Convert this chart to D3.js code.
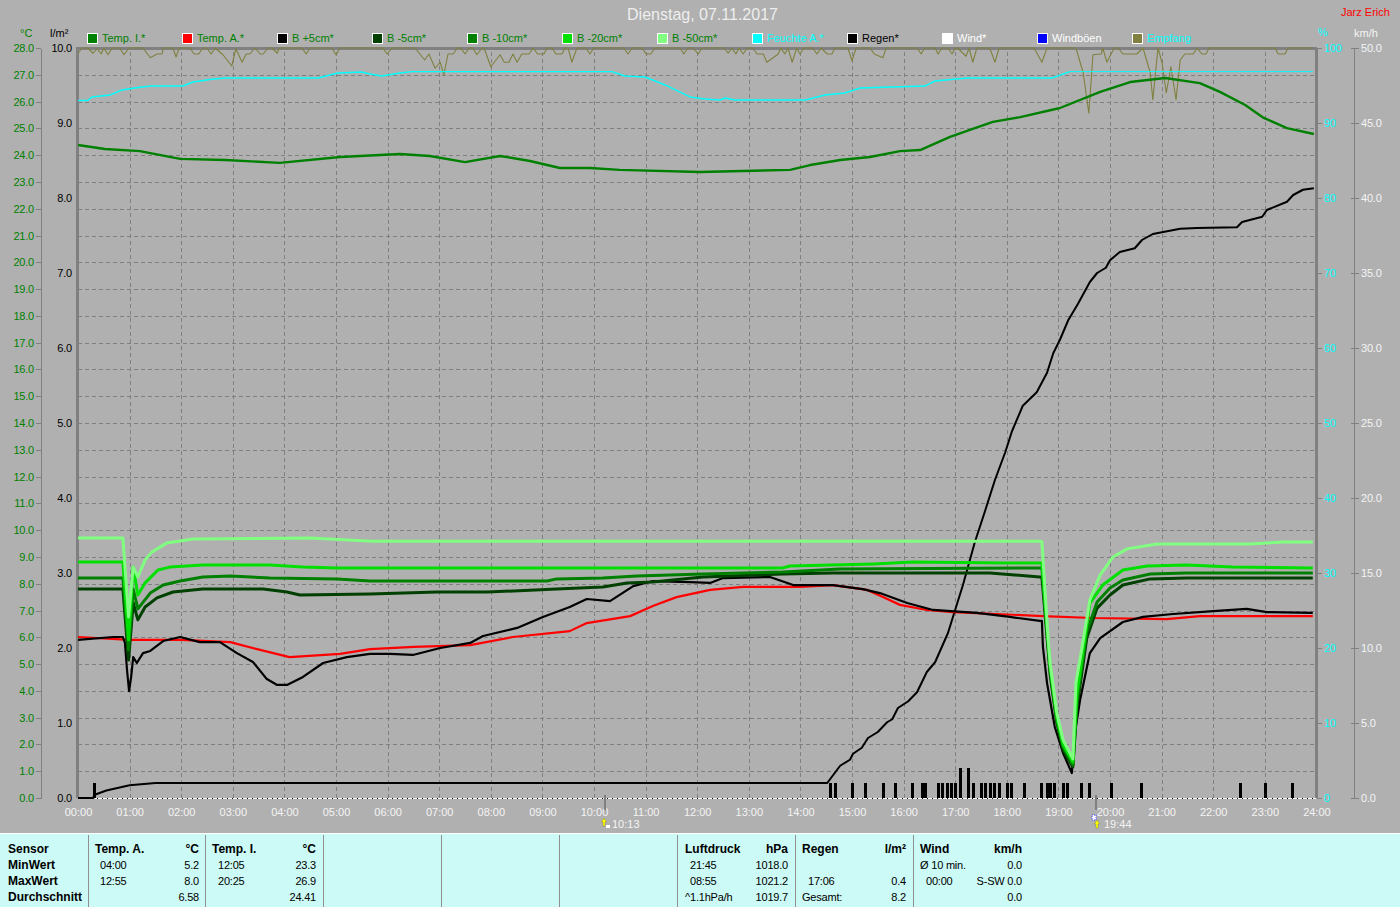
<!DOCTYPE html>
<html><head><meta charset="utf-8">
<script src="https://cdn.jsdelivr.net/npm/d3@7/dist/d3.min.js"></script>
<style>
html,body{margin:0;padding:0;background:#b0b0b0;overflow:hidden}
text{font-family:"Liberation Sans",Arial,sans-serif;font-size:11px}
.axis path.domain{stroke:#808080}
.axis line{stroke:#808080}
</style></head><body><svg id="c" width="1400" height="907"></svg>
<script>
// ---------- data: [hour, value] ----------
const tempI=[[0,24.38],[.52,24.23],[1.2,24.15],[1.98,23.86],[2.85,23.82],[3.91,23.71],[5.08,23.93],[6.24,24.04],[6.82,23.97],[7.5,23.74],[8.18,23.97],[8.76,23.78],[9.34,23.52],[9.92,23.52],[10.5,23.45],[12.05,23.37],[13.8,23.45],[14.19,23.63],[14.77,23.82],[15.35,23.93],[15.93,24.15],[16.32,24.19],[16.9,24.68],[17.34,24.98],[17.73,25.24],[18.26,25.42],[19.03,25.76],[19.81,26.36],[20.39,26.73],[21.07,26.88],[21.74,26.69],[22.13,26.36],[22.62,25.87],[22.98,25.39],[23.43,25.01],[23.95,24.79]];
const tempA=[[0,6.01],[1,5.9],[2,5.9],[2.95,5.82],[3.53,5.53],[4.1,5.26],[5.08,5.38],[5.66,5.56],[6.51,5.64],[7.6,5.71],[8.43,6.01],[9.53,6.23],[9.86,6.53],[10.7,6.79],[11.14,7.17],[11.6,7.5],[12.25,7.77],[12.89,7.88],[13.99,7.88],[14.63,7.95],[15.29,7.77],[15.6,7.5],[15.93,7.21],[16.45,7.02],[16.96,6.94],[18.7,6.79],[19.67,6.72],[21.1,6.68],[21.74,6.79],[23.93,6.79]];
const bPlus5=[[0,5.9],[.68,6.01],[.87,6.01],[.91,5.79],[.95,4.78],[.99,3.99],[1.03,4.52],[1.07,5.26],[1.14,5.04],[1.26,5.41],[1.4,5.49],[1.65,5.86],[1.98,6.01],[2.36,5.82],[2.75,5.82],[3.08,5.41],[3.39,5.08],[3.66,4.44],[3.86,4.22],[4.05,4.22],[4.36,4.52],[4.75,5.04],[5.21,5.26],[5.66,5.38],[6.05,5.38],[6.49,5.34],[7.02,5.6],[7.6,5.79],[7.85,6.05],[8.51,6.35],[9.01,6.76],[9.53,7.13],[9.86,7.43],[10.31,7.35],[10.76,7.91],[11.14,8.1],[11.86,8.06],[12.25,8.03],[12.5,8.21],[13.41,8.25],[13.86,7.95],[14.63,7.95],[15.21,7.8],[15.54,7.65],[16.07,7.28],[16.57,7.02],[17.42,6.91],[18.06,6.76],[18.64,6.61],[18.68,6.61],[18.7,5.64],[18.78,4.29],[18.93,2.65],[19.09,1.68],[19.26,.93],[19.32,2.43],[19.42,3.66],[19.61,5.41],[19.81,5.97],[20.25,6.57],[20.64,6.76],[21.22,6.87],[22,6.98],[22.65,7.06],[23.04,6.94],[23.93,6.91]];
const bMinus5=[[0,7.8],[.87,7.8],[.98,5.15],[1.07,7.28],[1.16,6.65],[1.3,7.13],[1.53,7.47],[1.84,7.69],[2.42,7.8],[3.59,7.8],[4.05,7.69],[4.3,7.58],[5.66,7.62],[6.96,7.69],[7.93,7.69],[9.28,7.8],[10.17,7.88],[10.64,8.03],[11.14,8.06],[12.11,8.25],[13.66,8.36],[14.63,8.4],[17.67,8.4],[18.64,8.25],[18.68,8.25],[18.8,5.55],[18.84,4.6],[18.97,2.8],[19.09,1.8],[19.28,1.16],[19.36,3.4],[19.55,5.97],[19.75,7.09],[20,7.58],[20.25,7.95],[20.78,8.18],[21.49,8.21],[23.93,8.21]];
const bMinus10=[[0,8.21],[.87,8.21],[.98,5.53],[1.07,7.8],[1.16,7.06],[1.4,7.65],[1.65,7.95],[1.98,8.1],[2.42,8.25],[2.95,8.29],[3.72,8.21],[5.02,8.18],[5.66,8.1],[9.09,8.1],[9.28,8.18],[10.17,8.21],[10.83,8.29],[12.11,8.36],[13.66,8.44],[14.77,8.55],[18.64,8.59],[18.68,8.59],[18.8,5.7],[18.84,4.75],[18.97,2.9],[19.09,1.9],[19.28,1.23],[19.36,3.6],[19.55,6.2],[19.75,7.32],[20,7.84],[20.25,8.14],[20.78,8.36],[21.49,8.4],[23.93,8.4]];
const bMinus20=[[0,8.81],[.87,8.81],[.98,5.9],[1.07,8.62],[1.16,7.58],[1.3,8.03],[1.55,8.51],[1.78,8.62],[2.42,8.7],[3.72,8.7],[4.36,8.62],[5.02,8.59],[13.66,8.59],[13.8,8.66],[15.41,8.74],[16.18,8.81],[18,8.77],[18.64,8.77],[18.68,8.77],[18.8,5.85],[18.84,4.9],[18.97,3],[19.09,2],[19.28,1.34],[19.36,3.9],[19.61,7.28],[19.86,7.95],[20.25,8.51],[20.72,8.66],[21.49,8.7],[22.38,8.62],[23.93,8.59]];
const bMinus50=[[0,9.71],[.87,9.71],[.98,6.76],[1.07,8.62],[1.16,8.25],[1.3,8.89],[1.43,9.18],[1.72,9.52],[2.23,9.67],[4.5,9.71],[5.66,9.59],[18.64,9.59],[18.68,9.56],[18.8,6.01],[18.84,5.04],[18.97,3.17],[19.09,2.17],[19.28,1.46],[19.34,4.29],[19.45,5.53],[19.61,7.39],[19.81,8.33],[20.06,9.0],[20.33,9.3],[20.91,9.48],[22.71,9.48],[23.35,9.56],[23.93,9.56]];
const feuchte=[[0,93.0],[.19,93.0],[.27,93.47],[.62,93.73],[.85,94.4],[1.1,94.67],[1.4,94.93],[2.03,94.93],[2.23,95.47],[2.56,95.8],[2.85,96],[4.65,96],[5.04,96.67],[5.5,96.8],[5.66,96.53],[5.89,96.27],[6.24,96.67],[6.47,96.85],[10.35,96.85],[10.6,96.27],[10.99,96.13],[11.38,95.07],[11.86,93.47],[12.15,93.2],[12.44,93.07],[12.54,93.33],[12.73,93.07],[14.09,93.07],[14.48,93.73],[14.86,94],[15.16,94.67],[16.41,94.93],[16.61,95.6],[17.23,96],[18.88,96],[19.22,96.85]];
const feuchteSpaet=[[19.22,96.85],[23.93,96.85]];
const empfang=[[0,99.3],[.08,100],[.19,100],[.29,99.3],[.37,99.9],[.45,99.2],[.5,100],[.58,99.1],[.66,100],[.81,100],[.89,99.1],[.99,100],[1.26,100],[1.4,98.7],[1.53,99.2],[1.63,99.2],[1.65,100],[1.84,100],[1.9,98.8],[1.96,100],[2.17,100],[2.25,99.2],[2.34,99.2],[2.42,100],[2.5,100],[2.58,99.2],[2.66,100],[2.81,99.1],[2.98,97.6],[3.06,99.9],[3.18,98.1],[3.26,99.2],[3.33,99.2],[3.43,100],[3.53,99.2],[3.59,99.2],[3.68,100],[3.76,100],[3.86,99.3],[3.9,100],[4.34,100],[4.42,99.2],[4.5,100],[4.92,100],[5,99.1],[5.08,100],[5.91,100],[5.99,99.2],[6.09,100],[6.53,100],[6.72,98.4],[6.8,99.2],[6.92,97.3],[7.02,98.1],[7.09,96.4],[7.17,99.2],[7.27,99.2],[7.35,100],[7.42,100],[7.5,99.2],[7.58,100],[7.65,100],[7.73,99.1],[7.83,100],[7.87,100],[8,97.5],[8.18,99.1],[8.26,98.1],[8.35,98.1],[8.43,99.2],[8.51,98.1],[8.6,99.2],[8.74,99.2],[8.82,100],[8.91,99.2],[9.03,99.2],[9.09,100],[9.19,100],[9.26,99.2],[9.38,99.2],[9.44,100],[9.5,100],[9.57,98.1],[9.67,100],[9.84,100],[9.92,99.2],[10,100],[10.58,100],[10.66,99.2],[10.74,100],[10.93,100],[11.01,99.2],[11.1,99.2],[11.18,100],[11.67,100],[11.74,99.2],[11.82,100],[11.92,100],[12.02,99.2],[12.09,100],[12.52,100],[12.6,99.3],[12.67,100],[12.75,99.2],[12.81,100],[12.89,99.2],[12.97,100],[13.08,100],[13.16,99.2],[13.28,99.2],[13.35,98.1],[13.57,99.2],[13.62,100],[13.7,99.2],[13.76,100],[13.84,98.1],[13.93,100],[13.99,99.2],[14.07,100],[14.24,100],[14.32,99.2],[14.4,100],[14.52,99.2],[14.61,99.2],[14.67,100],[14.92,100],[15,98.3],[15.08,100],[15.35,100],[15.43,99.2],[15.6,98.7],[15.66,100],[16.26,100],[16.34,99.2],[16.41,100],[16.61,100],[16.67,99.2],[16.74,100],[16.86,100],[16.94,99.2],[17,100],[17.05,100],[17.21,98.9],[17.27,100],[17.34,98.1],[17.42,100],[17.67,100],[17.77,98.1],[17.85,100],[18.53,100],[18.68,98.1],[18.78,100],[19.34,100],[19.48,96.7],[19.59,91.3],[19.67,99.1],[19.83,99.2],[19.86,100],[19.94,98.1],[20.08,100],[20.16,100],[20.25,99.2],[20.52,99.2],[20.64,100],[20.78,96.7],[20.83,93.1],[20.93,100],[21.01,98],[21.09,94],[21.18,97.5],[21.28,93.1],[21.36,98.4],[21.45,99.2],[21.61,99.2],[21.69,100],[21.78,99.2],[21.86,99.2],[21.92,100],[23.2,100],[23.26,99.2],[23.39,99.2],[23.45,100],[23.93,100]];
const regenSum=[[0,0],[.3,0],[.31,.04],[.55,.1],[1,.17],[1.5,.2],[14.52,.2],[14.77,.43],[14.96,.51],[15.02,.59],[15.19,.67],[15.31,.8],[15.5,.88],[15.68,1.01],[15.78,1.05],[15.89,1.2],[16.09,1.29],[16.26,1.41],[16.45,1.68],[16.61,1.81],[16.86,2.2],[17,2.51],[17.15,2.84],[17.38,3.41],[17.58,3.83],[17.77,4.24],[17.97,4.61],[18.1,4.89],[18.31,5.23],[18.58,5.41],[18.78,5.67],[18.9,5.93],[19.03,6.11],[19.19,6.37],[19.38,6.59],[19.61,6.88],[19.75,7],[19.92,7.07],[20,7.17],[20.19,7.28],[20.48,7.33],[20.62,7.44],[20.83,7.52],[21.36,7.59],[21.69,7.6],[22.46,7.61],[22.56,7.68],[22.95,7.75],[23.04,7.84],[23.43,7.95],[23.55,8.04],[23.74,8.11],[23.95,8.13]];
const regenBars=[[.31,.2],[14.58,.2],[14.68,.2],[15,.2],[15.25,.2],[15.61,.2],[15.84,.2],[16.17,.2],[16.35,.2],[16.42,.2],[16.67,.2],[16.75,.2],[16.85,.2],[16.92,.2],[17,.2],[17.1,.4],[17.25,.4],[17.35,.2],[17.5,.2],[17.58,.2],[17.68,.2],[17.76,.2],[17.85,.2],[18.01,.2],[18.09,.2],[18.34,.2],[18.67,.2],[18.77,.2],[18.84,.2],[18.92,.2],[19.09,.2],[19.17,.2],[19.43,.2],[19.6,.2],[20.01,.2],[20.61,.2],[22.51,.2],[23.01,.2],[23.52,.2]];
const wind=[[0,0],[24,0]];
const sunTimes=[[10.22,"10:13"],[19.73,"19:44"]];
const legendNames=["Temp. I.*","Temp. A.*","B +5cm*","B -5cm*","B -10cm*","B -20cm*","B -50cm*","Feuchte A.*","Regen*","Wind*","Windböen","Empfang"];
const legendColors=["#008000","#ff0000","#000000","#004000","#008000","#00e000","#80ff80","#00ffff","#000000","#ffffff","#0000ff","#808040"];
const legendText=["#008000","#008000","#008000","#008000","#008000","#008000","#008000","#00ffff","#000000","#ffffff","#ffffff","#00ffff"];
const panelColumns=[
 {x:8,r:null,rows:[["Sensor",""],["MinWert",""],["MaxWert",""],["Durchschnitt",""]],allBold:true},
 {x:95,r:199,ind:5,rows:[["Temp. A.","°C"],["04:00","5.2"],["12:55","8.0"],["","6.58"]]},
 {x:212,r:316,ind:6,rows:[["Temp. I.","°C"],["12:05","23.3"],["20:25","26.9"],["","24.41"]]},
 {x:685,r:788,ind:5,rows:[["Luftdruck","hPa"],["21:45","1018.0"],["08:55","1021.2"],["^1.1hPa/h","1019.7"]]},
 {x:802,r:906,ind:6,rows:[["Regen","l/m²"],["",""],["17:06","0.4"],["Gesamt:","8.2"]]},
 {x:920,r:1022,ind:6,rows:[["Wind","km/h"],["Ø 10 min.","0.0"],["00:00","S-SW 0.0"],["","0.0"]]}
];
const panelDividers=[88,205,323,441,559,677,795,913];

// ---------- layout ----------
const L=78,R=1316.4,T=48,B=798;
const x=d3.scaleLinear().domain([0,24]).range([L,R]);
const yT=d3.scaleLinear().domain([0,28]).range([B,T]);
const yR=d3.scaleLinear().domain([0,10]).range([B,T]);
const yP=d3.scaleLinear().domain([0,100]).range([B,T]);
const yW=d3.scaleLinear().domain([0,50]).range([B,T]);
const svg=d3.select("#c");
svg.append("rect").attr("width",1400).attr("height",907).attr("fill","#b0b0b0");

// grid
const hm=h=>String(h).padStart(2,"0")+":00";
const gridV=svg.append("g").attr("class","axis").attr("transform",`translate(0,${B})`)
 .call(d3.axisBottom(x).tickValues(d3.range(1,24)).tickSize(-(B-T)).tickFormat(""));
gridV.select(".domain").remove();
const gridH=svg.append("g").attr("class","axis").attr("transform",`translate(${L},0)`)
 .call(d3.axisLeft(yT).tickValues(d3.range(1,28)).tickSize(-(R-L)).tickFormat(""));
gridH.select(".domain").remove();
svg.selectAll(".axis line").attr("stroke-dasharray","4 3").attr("shape-rendering","crispEdges");

// x labels
const xa=svg.append("g").attr("transform",`translate(0,${B})`)
 .call(d3.axisBottom(x).tickValues(d3.range(0,25)).tickSize(0).tickPadding(10).tickFormat(hm));
xa.select(".domain").remove();
xa.selectAll("text").attr("fill","#f4f4f4").style("font-size","11px").style("font-family","Liberation Sans");

// left / right axes
function styleAxis(g,color,lineColor){
 g.selectAll("text").attr("fill",color).style("font-size","11px").style("font-family","Liberation Sans").style("letter-spacing","-0.2px");
 g.selectAll("line").attr("stroke",lineColor||"#808080").attr("shape-rendering","crispEdges");
 g.select(".domain").attr("stroke","#808080").attr("shape-rendering","crispEdges");
}
const aT=svg.append("g").attr("transform","translate(41,0)")
 .call(d3.axisLeft(yT).tickValues(d3.range(0,29)).tickSize(5).tickSizeOuter(0).tickPadding(2).tickFormat(d3.format(".1f")));
styleAxis(aT,"#008000");
aT.selectAll("line").attr("x2",-5);
const aR=svg.append("g").attr("transform","translate(73,0)")
 .call(d3.axisLeft(yR).tickValues(d3.range(0,11)).tickSize(0).tickPadding(1).tickFormat(d3.format(".1f")));
aR.select(".domain").remove();styleAxis(aR,"#000");
const aP=svg.append("g").attr("transform",`translate(1317,0)`)
 .call(d3.axisRight(yP).tickValues(d3.range(0,101,10)).tickSize(5).tickPadding(2).tickFormat(d3.format("d")));
aP.select(".domain").remove();styleAxis(aP,"#00ffff");
const aW=svg.append("g").attr("transform",`translate(1354,0)`)
 .call(d3.axisRight(yW).tickValues(d3.range(0,51,5)).tickSize(5).tickSizeOuter(0).tickPadding(2).tickFormat(d3.format(".1f")));
styleAxis(aW,"#f4f4f4");
aW.selectAll("line").attr("x1",-3);

// frame
svg.append("line").attr("x1",L-2).attr("x2",R+1).attr("y1",T).attr("y2",T).attr("stroke","#808080").attr("stroke-width",3).attr("shape-rendering","crispEdges");
svg.append("line").attr("x1",L-1).attr("x2",L-1).attr("y1",T).attr("y2",B).attr("stroke","#808080").attr("stroke-width",3).attr("shape-rendering","crispEdges");
svg.append("line").attr("x1",R).attr("x2",R).attr("y1",T).attr("y2",B).attr("stroke","#808080").attr("stroke-width",3).attr("shape-rendering","crispEdges");

// line helper
const draw=(data,y,color,w)=>svg.append("path").datum(data)
 .attr("d",d3.line().x(d=>x(d[0])).y(d=>y(d[1])))
 .attr("fill","none").attr("stroke",color).attr("stroke-width",w).attr("stroke-linejoin","round");

// wind baseline
draw(wind,yW,"#000",1).attr("shape-rendering","crispEdges");
draw(wind,yW,"#fff",1).attr("stroke-dasharray","4 1").attr("shape-rendering","crispEdges");
// rain bars
svg.append("g").selectAll("rect").data(regenBars).join("rect")
 .attr("x",d=>Math.round(x(d[0]))-1).attr("width",3)
 .attr("y",d=>yR(d[1])).attr("height",d=>yR(0)-yR(d[1])).attr("fill","#000");
draw(regenSum,yR,"#000",2);
draw(empfang,yP,"#808040",1.1);
draw(feuchte,yP,"#00ffff",1.4);
draw(feuchteSpaet,yP,"#00ffff",1);
draw(tempI,yT,"#008000",2.4);
draw(tempA,yT,"#ff0000",2.2);
draw(bPlus5,yT,"#000",2.2);
draw(bMinus5,yT,"#004000",3);
draw(bMinus10,yT,"#008000",3);
draw(bMinus20,yT,"#00e000",3);
draw(bMinus50,yT,"#80ff80",3);

// sun markers
sunTimes.forEach((s,i)=>{
 const sx=Math.round(x(s[0]));
 svg.append("line").attr("x1",sx).attr("x2",sx).attr("y1",B-3).attr("y2",B+12).attr("stroke","#808080").attr("stroke-width",2);
 const ix=i?sx+1:sx-1;
 svg.append("path").attr("d",`M${ix} ${818+(i?2:0)}l2.5 4h-1.5v4h-2v-4h-1.5z`).attr("fill","#ffff00").attr("stroke","#606000").attr("stroke-width",.3);
 svg.append("rect").attr("x",i?ix-5:ix+2).attr("y",i?815:825).attr("width",4).attr("height",i?5:3).attr("fill","#fff").attr("stroke",i?"#4040ff":"none").attr("stroke-dasharray","1 1");
 svg.append("text").attr("x",i?1104:612).attr("y",828).attr("fill","#f4f4f4").text(s[1]);
});

// title etc
svg.append("text").attr("x",702.5).attr("y",20).attr("text-anchor","middle").attr("fill","#eeeeee").style("font-size","16px").text("Dienstag, 07.11.2017");
svg.append("text").attr("x",1341).attr("y",16).attr("fill","#ff0000").text("Jarz Erich");
svg.append("text").attr("x",20).attr("y",37).attr("fill","#008000").text("°C");
svg.append("text").attr("x",50).attr("y",37).attr("fill","#000").text("l/m²");
svg.append("text").attr("x",1318).attr("y",36).attr("fill","#00ffff").text("%");
svg.append("text").attr("x",1354).attr("y",37).attr("fill","#f4f4f4").text("km/h");

// legend
const lg=svg.append("g").selectAll("g").data(legendNames).join("g").attr("transform",(d,i)=>`translate(${87+95*i},33)`);
lg.append("rect").attr("x",.5).attr("y",.5).attr("width",10).attr("height",10).attr("fill",(d,i)=>legendColors[i]).attr("stroke","#fff").attr("shape-rendering","crispEdges");
lg.append("text").attr("x",15).attr("y",9).attr("fill",(d,i)=>legendText[i]).text(d=>d);

// panel
svg.append("rect").attr("x",0).attr("y",833).attr("width",1400).attr("height",74).attr("fill","#ccfaf6");
svg.append("line").attr("x1",0).attr("x2",1400).attr("y1",833.5).attr("y2",833.5).attr("stroke","#fff");
panelDividers.forEach(d=>svg.append("line").attr("x1",d+.5).attr("x2",d+.5).attr("y1",835).attr("y2",907).attr("stroke","#909090"));
const rowY=[853,869,885,901];
panelColumns.forEach(c=>c.rows.forEach((r,i)=>{
 const bold=c.allBold||i===0;
 if(r[0]){
  const indent=(!bold&&r[0].includes(":")&&!r[0].startsWith("Ges"))?c.ind:0;
  svg.append("text").attr("x",c.x+indent).attr("y",rowY[i]).attr("fill","#000")
   .style("font-weight",bold?"bold":"normal").style("font-size",bold?"12px":"11px").style("letter-spacing",bold?"0":"-0.2px").text(r[0]);
 }
 if(r[1]){
  svg.append("text").attr("x",c.r).attr("y",rowY[i]).attr("text-anchor","end").attr("fill","#000")
   .style("font-weight",bold?"bold":"normal").style("font-size",bold?"12px":"11px").style("letter-spacing",bold?"0":"-0.2px").text(r[1]);
 }
}));
</script></body></html>
